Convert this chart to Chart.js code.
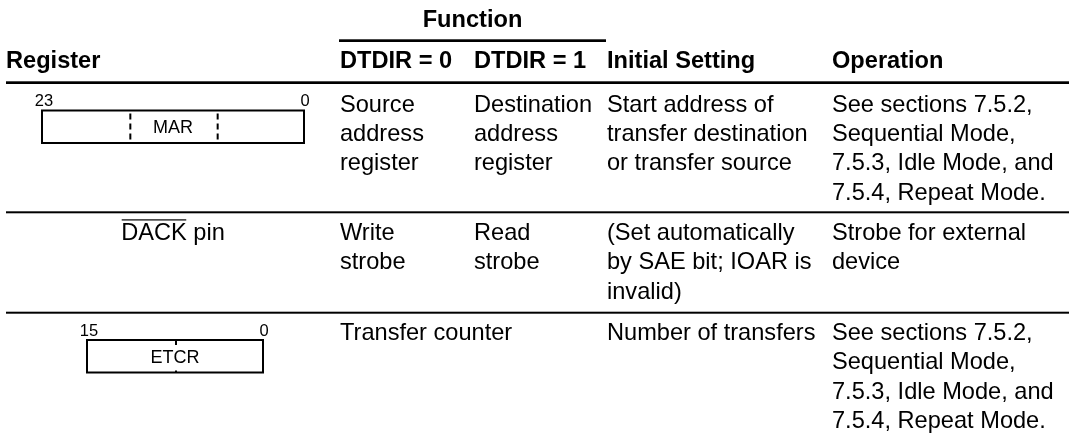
<!DOCTYPE html>
<html>
<head>
<meta charset="utf-8">
<script src="https://cdn.jsdelivr.net/npm/chart.js@4.4.1/dist/chart.umd.min.js"></script>
<style>
  html, body { margin: 0; padding: 0; background: #ffffff; }
  #wrap { position: relative; width: 1069px; height: 440px; }
</style>
</head>
<body>
<div id="wrap"><canvas id="c"></canvas></div>
<script>
// ---------- table content ----------
const groupHeader = "Function";
const columnHeaders = ["Register", "DTDIR = 0", "DTDIR = 1", "Initial Setting", "Operation"];

// register column: row 0 = register box, row 1 = pin text, row 2 = register box
const registerBoxes = [
  { name: "MAR", hiBit: "23", loBit: "0", sections: 3, dashed: true },
  null,
  { name: "ETCR", hiBit: "15", loBit: "0", sections: 2, dashed: false }
];
const pinName = "DACK";      // drawn with an overbar
const pinSuffix = " pin";

const dtdir0Cells = [
  ["Source", "address", "register"],
  ["Write", "strobe"],
  ["Transfer counter"]
];
const dtdir1Cells = [
  ["Destination", "address", "register"],
  ["Read", "strobe"],
  []
];
const initialCells = [
  ["Start address of", "transfer destination", "or transfer source"],
  ["(Set automatically", "by SAE bit; IOAR is", "invalid)"],
  ["Number of transfers"]
];
const operationCells = [
  ["See sections 7.5.2,", "Sequential Mode,", "7.5.3, Idle Mode, and", "7.5.4, Repeat Mode."],
  ["Strobe for external", "device"],
  ["See sections 7.5.2,", "Sequential Mode,", "7.5.3, Idle Mode, and", "7.5.4, Repeat Mode."]
];

// ---------- layout (positions / sizes / styles) ----------
const layout = {
  width: 1069, height: 440,
  left: 6, right: 1069,
  colX: [6, 340, 474, 607, 832],
  regCenter: 173,
  groupBaseline: 26.7,
  groupRule: { x0: 339, x1: 606, y: 39.3, h: 2.7 },
  headBaseline: 68,
  headRule: { y: 81.3, h: 2.7 },
  rowRules: [{ y: 211.3, h: 2.0 }, { y: 311.7, h: 2.0 }],
  rowBaselines: [111.5, 240, 340],
  lineHeight: 29.4,
  font: '"Liberation Sans", Arial, Helvetica, sans-serif',
  size: 23.6,
  boxes: [
    { x0: 42, x1: 304, y0: 110.5, y1: 143 },
    null,
    { x0: 87, x1: 263, y0: 340, y1: 372.5 }
  ],
  bitSize: 16.5, nameSize: 18,
  overbarY: 219.3,
  color: "#000000"
};

const tablePlugin = {
  id: "tableDraw",
  afterDraw(chart) {
    const ctx = chart.ctx;
    const sx = chart.scales.x, sy = chart.scales.y;
    const X = v => sx.getPixelForValue(v);
    const Y = v => sy.getPixelForValue(v);
    const L = layout;
    ctx.save();
    ctx.fillStyle = L.color;
    ctx.strokeStyle = L.color;
    ctx.textBaseline = "alphabetic";

    const font = (w, s) => `${w} ${s}px ${L.font}`;
    const rule = (x0, x1, y, h) => ctx.fillRect(X(x0), Y(y), X(x1) - X(x0), Y(y + h) - Y(y));

    // group header "Function"
    ctx.font = font("bold", L.size);
    ctx.textAlign = "center";
    ctx.fillText(groupHeader, X((L.groupRule.x0 + L.groupRule.x1) / 2), Y(L.groupBaseline));
    rule(L.groupRule.x0, L.groupRule.x1, L.groupRule.y, L.groupRule.h);

    // column headers
    ctx.textAlign = "left";
    columnHeaders.forEach((h, i) => ctx.fillText(h, X(L.colX[i]), Y(L.headBaseline)));
    rule(L.left, L.right, L.headRule.y, L.headRule.h);
    L.rowRules.forEach(r => rule(L.left, L.right, r.y, r.h));

    // body text
    ctx.font = font("normal", L.size);
    const cols = [null, dtdir0Cells, dtdir1Cells, initialCells, operationCells];
    cols.forEach((cells, ci) => {
      if (!cells) return;
      cells.forEach((lines, ri) => {
        lines.forEach((t, li) => {
          ctx.fillText(t, X(L.colX[ci]), Y(L.rowBaselines[ri] + li * L.lineHeight));
        });
      });
    });

    // pin row (overbarred signal name)
    const wName = ctx.measureText(pinName).width;
    const wSuf = ctx.measureText(pinSuffix).width;
    const start = X(L.regCenter) - (wName + wSuf) / 2;
    ctx.fillText(pinName, start, Y(L.rowBaselines[1]));
    ctx.fillText(pinSuffix, start + wName, Y(L.rowBaselines[1]));
    ctx.fillRect(start + 0.5, Y(L.overbarY), wName - 1, 1.2);

    // register boxes
    registerBoxes.forEach((b, i) => {
      if (!b) return;
      const g = L.boxes[i];
      const x0 = X(g.x0), x1 = X(g.x1), y0 = Y(g.y0), y1 = Y(g.y1);
      ctx.lineWidth = 2;
      ctx.setLineDash([]);
      ctx.strokeRect(x0, y0, x1 - x0, y1 - y0);
      ctx.font = font("normal", L.bitSize);
      ctx.textAlign = "center";
      ctx.fillText(b.hiBit, x0 + 2, y0 - 4.5);
      ctx.fillText(b.loBit, x1 + 1, y0 - 4.5);
      ctx.font = font("normal", L.nameSize);
      ctx.fillText(b.name, (x0 + x1) / 2, (y0 + y1) / 2 + 6.5);
      for (let k = 1; k < b.sections; k++) {
        const xd = x0 + (x1 - x0) * k / b.sections + 1;
        ctx.beginPath();
        if (b.dashed) {
          ctx.setLineDash([6, 4]);
          ctx.lineDashOffset = -3;
          ctx.moveTo(xd, y0);
          ctx.lineTo(xd, y1);
        } else {
          ctx.setLineDash([]);
          ctx.moveTo(xd, y0);
          ctx.lineTo(xd, y0 + 5);
          ctx.moveTo(xd, y1);
          ctx.lineTo(xd, y1 - 2);
        }
        ctx.stroke();
      }
      ctx.setLineDash([]);
      ctx.textAlign = "left";
    });
    ctx.restore();
  }
};

new Chart(document.getElementById("c"), {
  type: "scatter",
  data: { datasets: [{ data: [] }] },
  options: {
    responsive: true,
    maintainAspectRatio: false,
    animation: false,
    events: [],
    layout: { padding: 0 },
    plugins: { legend: { display: false }, tooltip: { enabled: false } },
    scales: {
      x: { type: "linear", min: 0, max: layout.width, display: false },
      y: { type: "linear", min: 0, max: layout.height, reverse: true, display: false }
    }
  },
  plugins: [tablePlugin]
});
</script>
</body>
</html>
